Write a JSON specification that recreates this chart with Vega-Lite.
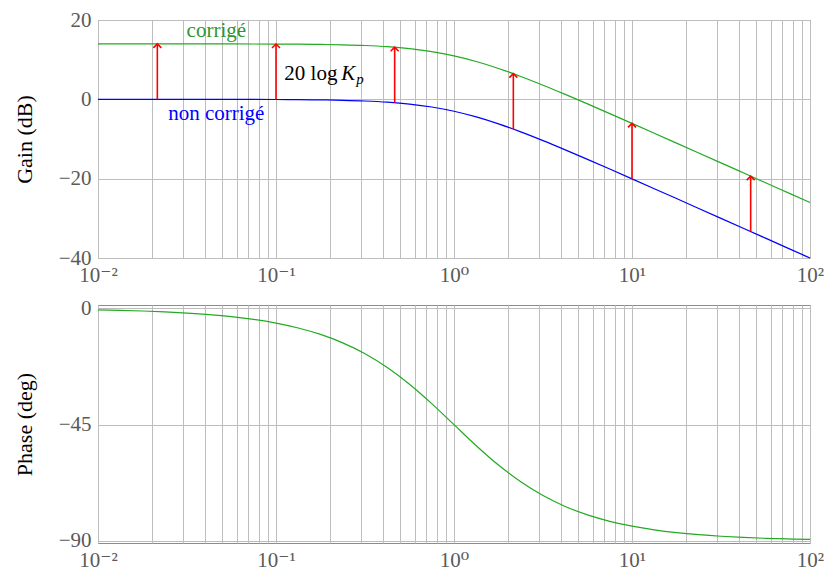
{
  "$schema": "https://vega.github.io/schema/vega-lite/v6.json",
  "padding": {"left": 12, "top": 8, "right": 10, "bottom": 2},
  "spacing": 10,
  "background": "white",
  "datasets": {
    "curve": [
      {"w": 0.01, "gain": -0.0004, "gain_c": 13.9786, "phase": -0.573},
      {"w": 0.013335, "gain": -0.0008, "gain_c": 13.9782, "phase": -0.764},
      {"w": 0.017783, "gain": -0.0014, "gain_c": 13.9776, "phase": -1.019},
      {"w": 0.023714, "gain": -0.0024, "gain_c": 13.9766, "phase": -1.358},
      {"w": 0.031623, "gain": -0.0043, "gain_c": 13.9747, "phase": -1.811},
      {"w": 0.04217, "gain": -0.0077, "gain_c": 13.9713, "phase": -2.415},
      {"w": 0.056234, "gain": -0.0137, "gain_c": 13.9653, "phase": -3.219},
      {"w": 0.074989, "gain": -0.0244, "gain_c": 13.9546, "phase": -4.289},
      {"w": 0.1, "gain": -0.0432, "gain_c": 13.9358, "phase": -5.711},
      {"w": 0.13335, "gain": -0.0766, "gain_c": 13.9024, "phase": -7.596},
      {"w": 0.17783, "gain": -0.1352, "gain_c": 13.8438, "phase": -10.084},
      {"w": 0.23714, "gain": -0.2377, "gain_c": 13.7413, "phase": -13.34},
      {"w": 0.31623, "gain": -0.4139, "gain_c": 13.5651, "phase": -17.548},
      {"w": 0.4217, "gain": -0.7108, "gain_c": 13.2682, "phase": -22.866},
      {"w": 0.56234, "gain": -1.1934, "gain_c": 12.7856, "phase": -29.353},
      {"w": 0.74989, "gain": -1.9377, "gain_c": 12.0413, "phase": -36.86},
      {"w": 1, "gain": -3.0103, "gain_c": 10.9687, "phase": -45},
      {"w": 1.3335, "gain": -4.4377, "gain_c": 9.5413, "phase": -53.14},
      {"w": 1.7783, "gain": -6.1934, "gain_c": 7.7856, "phase": -60.647},
      {"w": 2.3714, "gain": -8.2108, "gain_c": 5.7682, "phase": -67.134},
      {"w": 3.1623, "gain": -10.4139, "gain_c": 3.5651, "phase": -72.452},
      {"w": 4.217, "gain": -12.7377, "gain_c": 1.2413, "phase": -76.66},
      {"w": 5.6234, "gain": -15.1352, "gain_c": -1.1562, "phase": -79.916},
      {"w": 7.4989, "gain": -17.5766, "gain_c": -3.5976, "phase": -82.404},
      {"w": 10, "gain": -20.0432, "gain_c": -6.0642, "phase": -84.289},
      {"w": 13.335, "gain": -22.5243, "gain_c": -8.5453, "phase": -85.711},
      {"w": 17.783, "gain": -25.0137, "gain_c": -11.0347, "phase": -86.781},
      {"w": 23.714, "gain": -27.5077, "gain_c": -13.5287, "phase": -87.585},
      {"w": 31.623, "gain": -30.0043, "gain_c": -16.0253, "phase": -88.189},
      {"w": 42.17, "gain": -32.5024, "gain_c": -18.5234, "phase": -88.642},
      {"w": 56.234, "gain": -35.0014, "gain_c": -21.0224, "phase": -88.981},
      {"w": 74.989, "gain": -37.5008, "gain_c": -23.5218, "phase": -89.236},
      {"w": 100, "gain": -40.0004, "gain_c": -26.0214, "phase": -89.427}
    ],
    "arrows": [
      {"w": 0.021544, "lo": -0.002, "hi": 13.977},
      {"w": 0.1, "lo": -0.0432, "hi": 13.9358},
      {"w": 0.46416, "lo": -0.8474, "hi": 13.1316},
      {"w": 2.1544, "lo": -7.514, "hi": 6.465},
      {"w": 10, "lo": -20.0432, "hi": -6.0642},
      {"w": 46.416, "lo": -33.3354, "hi": -19.3564}
    ]
  },
  "config": {
    "font": "Liberation Serif, DejaVu Serif, serif",
    "view": {"stroke": "#8c8c8c", "strokeWidth": 1},
    "text": {"font": "Liberation Serif, DejaVu Serif, serif"},
    "axis": {
      "labelFont": "Liberation Serif, DejaVu Serif, serif",
      "labelFontSize": 21,
      "labelColor": "#5a5a5a",
      "titleFont": "Liberation Serif, DejaVu Serif, serif",
      "titleFontSize": 22,
      "titleFontWeight": "normal",
      "titleColor": "#000000",
      "domain": false,
      "ticks": false,
      "grid": true,
      "gridColor": "#bdbdbd",
      "gridWidth": 1,
      "gridOpacity": 1,
      "labelPadding": 7
    }
  },
  "vconcat": [
    {
      "width": 712,
      "height": 238,
      "layer": [
        {
          "data": {"name": "curve"},
          "mark": {"type": "line", "color": "#0000ff", "strokeWidth": 1.2, "interpolate": "monotone"},
          "encoding": {
            "x": {
              "field": "w", "type": "quantitative",
              "scale": {"type": "log", "domain": [0.01, 100], "nice": false},
              "axis": {
                "title": null,
                "values": [0.01,0.02,0.03,0.04,0.05,0.06,0.07,0.08,0.09,0.1,0.2,0.3,0.4,0.5,0.6,0.7,0.8,0.9,1,2,3,4,5,6,7,8,9,10,20,30,40,50,60,70,80,90,100],
                "labelExpr": "datum.value == 0.01 ? '10⁻²' : datum.value == 0.1 ? '10⁻¹' : datum.value == 1 ? '10⁰' : datum.value == 10 ? '10¹' : datum.value == 100 ? '10²' : ''",
                "labelOverlap": false,
                "labelFlush": false,
                "labelBound": false,
                "labelPadding": 6
              }
            },
            "y": {
              "field": "gain", "type": "quantitative",
              "scale": {"domain": [-40, 20], "nice": false, "zero": false},
              "axis": {"title": "Gain (dB)", "values": [-40, -20, 0, 20], "labelExpr": "replace(format(datum.value, 'd'), '-', '−')", "titlePadding": 22}
            }
          }
        },
        {
          "data": {"name": "curve"},
          "mark": {"type": "line", "color": "#22aa22", "strokeWidth": 1.2, "interpolate": "monotone"},
          "encoding": {
            "x": {"field": "w", "type": "quantitative"},
            "y": {"field": "gain_c", "type": "quantitative"}
          }
        },
        {
          "data": {"name": "arrows"},
          "mark": {"type": "rule", "color": "#ff0000", "strokeWidth": 1.6},
          "encoding": {
            "x": {"field": "w", "type": "quantitative"},
            "y": {"field": "lo", "type": "quantitative"},
            "y2": {"field": "hi"}
          }
        },
        {
          "data": {"name": "arrows"},
          "mark": {"type": "point", "shape": "M-1,1L0,0L1,1", "filled": false, "stroke": "#ff0000", "strokeWidth": 1.6, "size": 64, "opacity": 1},
          "encoding": {
            "x": {"field": "w", "type": "quantitative"},
            "y": {"field": "hi", "type": "quantitative"}
          }
        },
        {
          "data": {"values": [{"w": 0.0462, "y": 17.3, "t": "corrigé"}]},
          "mark": {"type": "text", "color": "#2e962e", "fontSize": 21, "align": "center", "baseline": "middle"},
          "encoding": {
            "x": {"field": "w", "type": "quantitative"},
            "y": {"field": "y", "type": "quantitative"},
            "text": {"field": "t"}
          }
        },
        {
          "data": {"values": [{"w": 0.0462, "y": -3.7, "t": "non corrigé"}]},
          "mark": {"type": "text", "color": "#0000ff", "fontSize": 21, "align": "center", "baseline": "middle"},
          "encoding": {
            "x": {"field": "w", "type": "quantitative"},
            "y": {"field": "y", "type": "quantitative"},
            "text": {"field": "t"}
          }
        },
        {
          "data": {"values": [{"w": 0.1114, "y": 6.4, "t": "20 log"}]},
          "mark": {"type": "text", "color": "#000000", "fontSize": 21, "align": "left", "baseline": "middle"},
          "encoding": {
            "x": {"field": "w", "type": "quantitative"},
            "y": {"field": "y", "type": "quantitative"},
            "text": {"field": "t"}
          }
        },
        {
          "data": {"values": [{"w": 0.1114, "y": 6.4, "t": "K"}]},
          "mark": {"type": "text", "color": "#000000", "fontSize": 21, "fontStyle": "italic", "align": "left", "baseline": "middle", "dx": 57},
          "encoding": {
            "x": {"field": "w", "type": "quantitative"},
            "y": {"field": "y", "type": "quantitative"},
            "text": {"field": "t"}
          }
        },
        {
          "data": {"values": [{"w": 0.1114, "y": 6.4, "t": "p"}]},
          "mark": {"type": "text", "color": "#000000", "fontSize": 15, "fontStyle": "italic", "align": "left", "baseline": "middle", "dx": 72, "dy": 5},
          "encoding": {
            "x": {"field": "w", "type": "quantitative"},
            "y": {"field": "y", "type": "quantitative"},
            "text": {"field": "t"}
          }
        }
      ]
    },
    {
      "width": 712,
      "height": 238,
      "data": {"name": "curve"},
      "mark": {"type": "line", "color": "#22aa22", "strokeWidth": 1.2, "interpolate": "monotone"},
      "encoding": {
        "x": {
          "field": "w", "type": "quantitative",
          "scale": {"type": "log", "domain": [0.01, 100], "nice": false},
          "axis": {
            "title": null,
            "values": [0.01,0.02,0.03,0.04,0.05,0.06,0.07,0.08,0.09,0.1,0.2,0.3,0.4,0.5,0.6,0.7,0.8,0.9,1,2,3,4,5,6,7,8,9,10,20,30,40,50,60,70,80,90,100],
            "labelExpr": "datum.value == 0.01 ? '10⁻²' : datum.value == 0.1 ? '10⁻¹' : datum.value == 1 ? '10⁰' : datum.value == 10 ? '10¹' : datum.value == 100 ? '10²' : ''",
            "labelOverlap": false,
            "labelFlush": false,
            "labelBound": false,
            "labelPadding": 6
          }
        },
        "y": {
          "field": "phase", "type": "quantitative",
          "scale": {"domain": [-90.8, 1.3], "nice": false, "zero": false},
          "axis": {"title": "Phase (deg)", "values": [-90, -45, 0], "labelExpr": "replace(format(datum.value, 'd'), '-', '−')", "titlePadding": 22}
        }
      }
    }
  ]
}
